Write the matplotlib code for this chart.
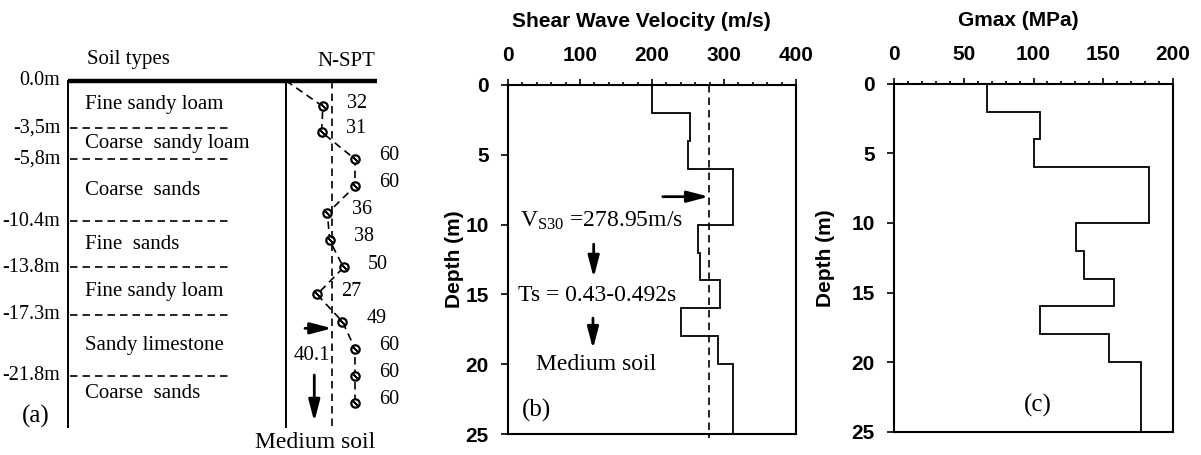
import matplotlib
matplotlib.use('Agg')
import matplotlib.pyplot as plt
from matplotlib.ticker import MultipleLocator

plt.rcParams['font.family'] = ['Liberation Sans', 'DejaVu Sans']
plt.rcParams['font.weight'] = 'bold'
plt.rcParams['mathtext.fontset'] = 'custom'
plt.rcParams['mathtext.rm'] = 'Liberation Serif:weight=normal'
plt.rcParams['mathtext.it'] = 'Liberation Serif:italic:weight=normal'
plt.rcParams['axes.linewidth'] = 1.5

SERIF = ['Liberation Serif', 'DejaVu Serif']

# ---------------- data ----------------
# Panel (a): soil profile and N-SPT
layer_bounds = [0.0, 3.5, 5.8, 10.4, 13.8, 17.3, 21.8]
bound_labels = ['0.0m', '-3,5m', '-5,8m', '-10.4m', '-13.8m', '-17.3m', '-21.8m']
soil_types = ['Fine sandy loam', 'Coarse  sandy loam', 'Coarse  sands', 'Fine  sands',
              'Fine sandy loam', 'Sandy limestone', 'Coarse  sands']
last_layer_bottom = 24.4
spt_depths = [1.9, 3.8, 5.8, 7.8, 9.8, 11.8, 13.8, 15.8, 17.8, 19.8, 21.8, 23.8]
spt_values = [32, 31, 60, 60, 36, 38, 50, 27, 49, 60, 60, 60]
spt_mean = 40.1

# Panels (b), (c)
depth_edges = [0, 2, 4, 6, 10, 12, 14, 16, 18, 20, 25]
vs_values = [200, 253, 250, 312, 264, 267, 294, 240, 292, 312]
vs30 = 278.95
gmax_values = [66.4, 105, 100.6, 183, 130.5, 136.3, 157.6, 104.7, 154.5, 177.2]

W, H = 1201, 455
fig = plt.figure(figsize=(W / 100, H / 100), dpi=100)


def px_axes(l, t, r, b):
    return fig.add_axes([l / W, 1 - b / H, (r - l) / W, (b - t) / H])


ARROW = dict(arrowstyle='-|>,head_length=0.65,head_width=0.17', lw=2.0, color='k',
             shrinkA=0, shrinkB=0, mutation_scale=20)
DASH = (0, (4.5, 3))

# ---------------- panel (a) ----------------
ax_soil = px_axes(68, 80.7, 286, 429.8)
ax_soil.set_xlim(0, 1)
ax_soil.set_ylim(25.8, 0)
ax_soil.axis('off')

ax_spt = px_axes(286, 80.7, 400, 429.8)
ax_spt.set_xlim(0, 114 / 1.15)
ax_spt.set_ylim(25.8, 0)
ax_spt.axis('off')

# frame
ax_soil.plot([0, 1.416], [0, 0], color='k', lw=3.2, clip_on=False, solid_capstyle='butt')
ax_soil.plot([0, 0], [0, 25.6], color='k', lw=1.4, clip_on=False)
ax_soil.plot([1, 1], [0, 25.6], color='k', lw=1.4, clip_on=False)

for d, lab in zip(layer_bounds, bound_labels):
    if d > 0:
        ax_soil.plot([0.01, 0.75], [d, d], color='k', lw=1.2, ls=DASH)
    ax_soil.text(-0.035, d, lab, ha='right', va='center', fontsize=14.5,
                 family=SERIF, fontweight='normal', clip_on=False)

bottoms = layer_bounds[1:] + [last_layer_bottom]
for top, bot, name in zip(layer_bounds, bottoms, soil_types):
    ax_soil.text(0.08, (top + bot) / 2, name, ha='left', va='center', fontsize=15,
                 family=SERIF, fontweight='normal')

ax_soil.text(0.275, -1.55, 'Soil types', ha='center', va='center', fontsize=15,
             family=SERIF, fontweight='normal', clip_on=False)
ax_soil.text(-0.147, 24.8, '(a)', ha='center', va='center', fontsize=18,
             family=SERIF, fontweight='normal', clip_on=False)

# N-SPT
ax_spt.plot([0] + spt_values, [0] + spt_depths, color='k', lw=1.2, ls=DASH, clip_on=False)
ax_spt.plot(spt_values, spt_depths, ls='none', marker='o', ms=6, mfc='white',
            mec='k', mew=1.6, clip_on=False)
ax_spt.plot(spt_values, spt_depths, ls='none', marker=(2, 2, 45), ms=4,
            mec='k', mew=1.2, clip_on=False)
for n, d in zip(spt_values, spt_depths):
    ax_spt.text(n + 21, d - 0.25, str(n), ha='left', va='center', fontsize=14.5,
                family=SERIF, fontweight='normal', clip_on=False)
ax_spt.plot([spt_mean, spt_mean], [0, 25.8], color='k', lw=1.2, ls=DASH, clip_on=False)
ax_spt.text(52.6, -1.4, 'N-SPT', ha='center', va='center', fontsize=15,
            family=SERIF, fontweight='normal', clip_on=False)
ax_spt.annotate('', xy=(spt_mean, 18.3), xytext=(16.5, 18.3), arrowprops=ARROW,
                annotation_clip=False)
ax_spt.text(38.5, 20.3, f'{spt_mean}', ha='right', va='center', fontsize=15,
            family=SERIF, fontweight='normal', clip_on=False)
ax_spt.annotate('', xy=(24.6, 25.2), xytext=(24.6, 21.75), arrowprops=ARROW,
                annotation_clip=False)
ax_spt.text(25.2, 26.75, 'Medium soil', ha='center', va='center', fontsize=17,
            family=SERIF, fontweight='normal', clip_on=False)


# ---------------- panels (b), (c) ----------------
def style_axis(ax, xmax, major, minor, title, title_x, ylabel_x):
    ax.set_xlim(0, xmax)
    ax.set_ylim(25, 0)
    ax.xaxis.tick_top()
    ax.xaxis.set_major_locator(MultipleLocator(major))
    ax.xaxis.set_minor_locator(MultipleLocator(minor))
    ax.yaxis.set_major_locator(MultipleLocator(5))
    ax.tick_params(axis='x', which='major', direction='out', length=4, width=1.2,
                   pad=10.5, labelsize=15)
    ax.tick_params(axis='x', which='minor', direction='out', length=2, width=1.2)
    ax.tick_params(axis='y', which='major', direction='out', length=5, width=1.2,
                   pad=9, labelsize=15)
    ax.set_ylabel('Depth (m)', fontsize=15, fontweight='bold')
    ax.yaxis.set_label_coords(ylabel_x, 0.5)
    ax.text(title_x, 1.183, title, transform=ax.transAxes, ha='center', va='center',
            fontsize=15, fontweight='bold')


ax_b = px_axes(508, 85, 796, 434)
ax_b.stairs(vs_values, depth_edges, orientation='horizontal', baseline=None,
            color='k', lw=1.3)
ax_b.plot([vs30, vs30], [0, 25.3], color='k', lw=1.2, ls=DASH, clip_on=False)
style_axis(ax_b, 400, 100, 20, 'Shear Wave Velocity (m/s)', 0.462, -0.153)

ax_b.annotate('', xy=(vs30, 8.0), xytext=(215, 8.0), arrowprops=ARROW)
ax_b.text(16.5, 9.75, r'V$_{\mathrm{S30}}$ =278.95m/s', ha='left', va='center',
          fontsize=17, family=SERIF, fontweight='normal')
ax_b.annotate('', xy=(119, 13.8), xytext=(119, 11.4), arrowprops=ARROW)
ax_b.text(14, 15.1, 'Ts = 0.43-0.492s', ha='left', va='center', fontsize=17,
          family=SERIF, fontweight='normal')
ax_b.annotate('', xy=(118, 18.9), xytext=(118, 16.7), arrowprops=ARROW)
ax_b.text(122, 20.0, 'Medium soil', ha='center', va='center', fontsize=17,
          family=SERIF, fontweight='normal')
ax_b.text(39, 23.3, '(b)', ha='center', va='center', fontsize=18,
          family=SERIF, fontweight='normal')

ax_c = px_axes(894.3, 83.7, 1172.7, 431.7)
ax_c.stairs(gmax_values, depth_edges, orientation='horizontal', baseline=None,
            color='k', lw=1.3)
style_axis(ax_c, 200, 50, 10, 'Gmax (MPa)', 0.444, -0.213)
ax_c.text(103, 23.1, '(c)', ha='center', va='center', fontsize=18,
          family=SERIF, fontweight='normal')

fig.savefig('out.png', dpi=100)
